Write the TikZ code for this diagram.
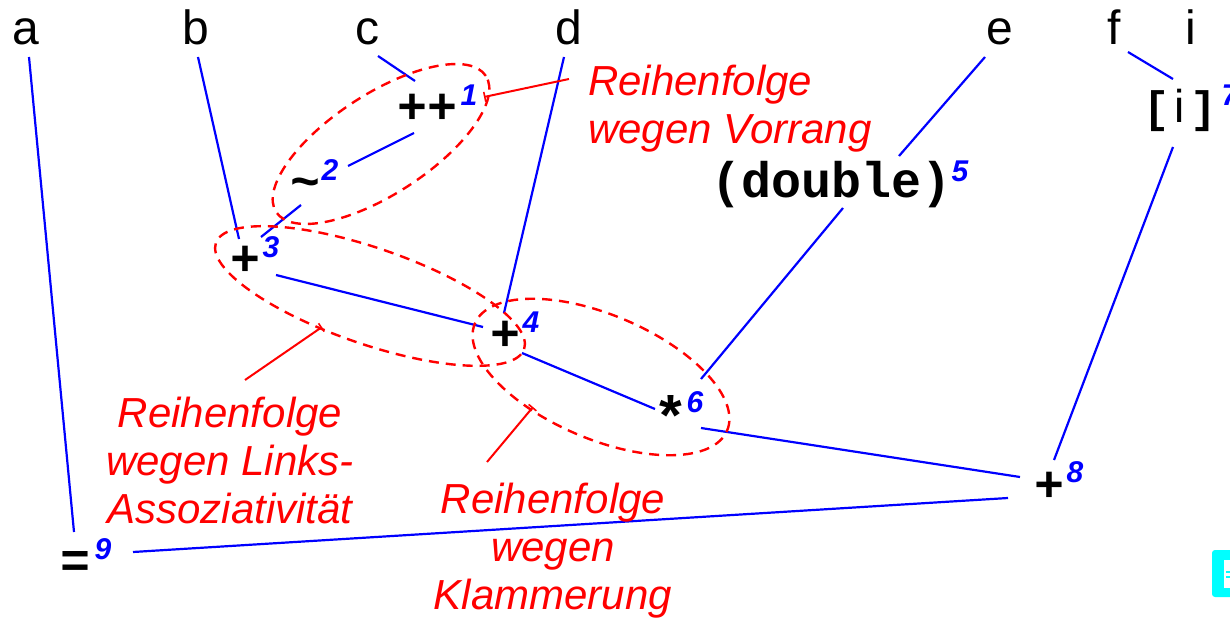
\documentclass[tikz,border=0pt]{standalone}
\usepackage{fontspec}
\setmainfont{Liberation Sans}
\newfontfamily\opfont{Liberation Mono}
\usetikzlibrary{shapes.geometric,arrows.meta}
\definecolor{lineblue}{RGB}{0,0,255}
\definecolor{notered}{RGB}{255,0,0}
\definecolor{iconcyan}{RGB}{0,255,255}
\begin{document}
\begin{tikzpicture}[x=1pt,y=-1pt,
  lab/.style={inner sep=0pt, text height=34pt, text depth=0pt, font=\fontsize{48}{54}\selectfont},
  op/.style={inner sep=0pt, text height=32pt, text depth=0pt, font=\opfont\bfseries\fontsize{50}{56}\selectfont},
  num/.style={inner sep=0pt, text=lineblue, font=\bfseries\itshape\fontsize{30}{34}\selectfont},
  note/.style={inner sep=0pt, text=notered, font=\itshape\fontsize{42}{48}\selectfont},
  conn/.style={draw=lineblue, line width=2.2pt},
  lead/.style={draw=notered, line width=2pt, -{Bar[width=10pt,line width=1.6pt]}},
  grp/.style={draw=notered, line width=2.4pt, dash pattern=on 10pt off 7pt, ellipse, inner sep=0pt},
]
\useasboundingbox (0,0) rectangle (1230,620);

% variable labels
\node[lab] (a) at (26,28) {a};
\node[lab] (b) at (196,28) {b};
\node[lab] (c) at (367,28) {c};
\node[lab] (d) at (569,28) {d};
\node[lab] (e) at (1000,28) {e};
\node[lab] (f) at (1114,28) {f};
\node[lab] (i) at (1191,28) {i};

% operators
\node[op] (op1) at (427,108) {++};
\node[op] (op2) at (305,183) {\textasciitilde};
\node[op] (op3) at (245,259) {+};
\node[op] (op4) at (505,334) {+};
\node[op] (op5) at (832,182) {(double)};
\node[op, font=\opfont\bfseries\fontsize{58}{62}\selectfont, text height=46pt] (op6) at (671,414) {*};
\node[op, font=\opfont\bfseries\fontsize{44}{50}\selectfont, text height=30pt] (op7) at (1180,108) {[\makebox[20pt]{\normalfont\fontsize{46}{50}\selectfont i}]};
\node[op] (op8) at (1049,485) {+};
\node[op] (op9) at (76,561) {=};

% evaluation order numbers
\node[num] (n1) at (469,95) {1};
\node[num] (n2) at (330,170) {2};
\node[num] (n3) at (271,247) {3};
\node[num] (n4) at (531,322) {4};
\node[num] (n5) at (960,171) {5};
\node[num] (n6) at (695,402) {6};
\node[num] (n7) at (1230,95) {7};
\node[num] (n8) at (1075,472) {8};
\node[num] (n9) at (103,549) {9};

% connectors
\draw[conn] ([shift={(3,29)}]a.center) -- ([shift={(-2,-29)}]op9.center);
\draw[conn] ([shift={(2,29)}]b.center) -- ([shift={(-6,-20)}]op3.center);
\draw[conn] ([shift={(11,28)}]c.center) -- ([shift={(-12,-27)}]op1.center);
\draw[conn] ([shift={(-13,25)}]op1.center) -- ([shift={(43,-17)}]op2.center);
\draw[conn] ([shift={(-4,22)}]op2.center) -- ([shift={(16,-22)}]op3.center);
\draw[conn] ([shift={(-5,29)}]d.center) -- ([shift={(-1,-21)}]op4.center);
\draw[conn] ([shift={(31,16)}]op3.center) -- ([shift={(-22,-7)}]op4.center);
\draw[conn] ([shift={(17,19)}]op4.center) -- ([shift={(-16,-5)}]op6.center);
\draw[conn] ([shift={(-15,29)}]e.center) -- ([shift={(67,-26)}]op5.center);
\draw[conn] ([shift={(11,26)}]op5.center) -- ([shift={(30,-35)}]op6.center);
\draw[conn] ([shift={(14,24)}]f.center) -- ([shift={(-7,-29)}]op7.center);
\draw[conn] ([shift={(-7,39)}]op7.center) -- ([shift={(5,-25)}]op8.center);
\draw[conn] ([shift={(30,14)}]op6.center) -- ([shift={(-29,-8)}]op8.center);
\draw[conn] ([shift={(-41,13)}]op8.center) -- ([shift={(57,-9)}]op9.center);

% groupings
\node[grp, minimum width=250pt, minimum height=100pt, rotate=33] (g1) at (381,144) {};
\node[grp, minimum width=326pt, minimum height=96pt, rotate=-19] (g2) at (370,296) {};
\node[grp, minimum width=274pt, minimum height=124pt, rotate=-23] (g3) at (601,377) {};

% notes
\node[note, align=left, anchor=west] (v) at (588,110) {\strut Reihenfolge\\\strut wegen Vorrang};
\node[note, align=center] (l) at (230,466) {\strut Reihenfolge\\\strut wegen Links-\\\strut Assoziativit\"at};
\node[note, align=center] (k) at (553,552) {\strut Reihenfolge\\\strut wegen\\\strut Klammerung};

\draw[lead] ([shift={(-19,-31)}]v.west) -- ([shift={(103,-47)}]g1.center);
\draw[lead] ([shift={(15,-86)}]l.center) -- ([shift={(-48,31)}]g2.center);
\draw[lead] ([shift={(-66,-90)}]k.center) -- ([shift={(-68,30)}]g3.center);

% partly visible icon at the right edge
\fill[iconcyan, rounded corners=3pt] (1212,550) rectangle (1242,597);
\fill[white] (1224,560) rectangle (1236,588);
\draw[iconcyan, line width=1.5pt] (1226,572) -- (1232,572) (1226,577) -- (1232,577);
\end{tikzpicture}
\end{document}
